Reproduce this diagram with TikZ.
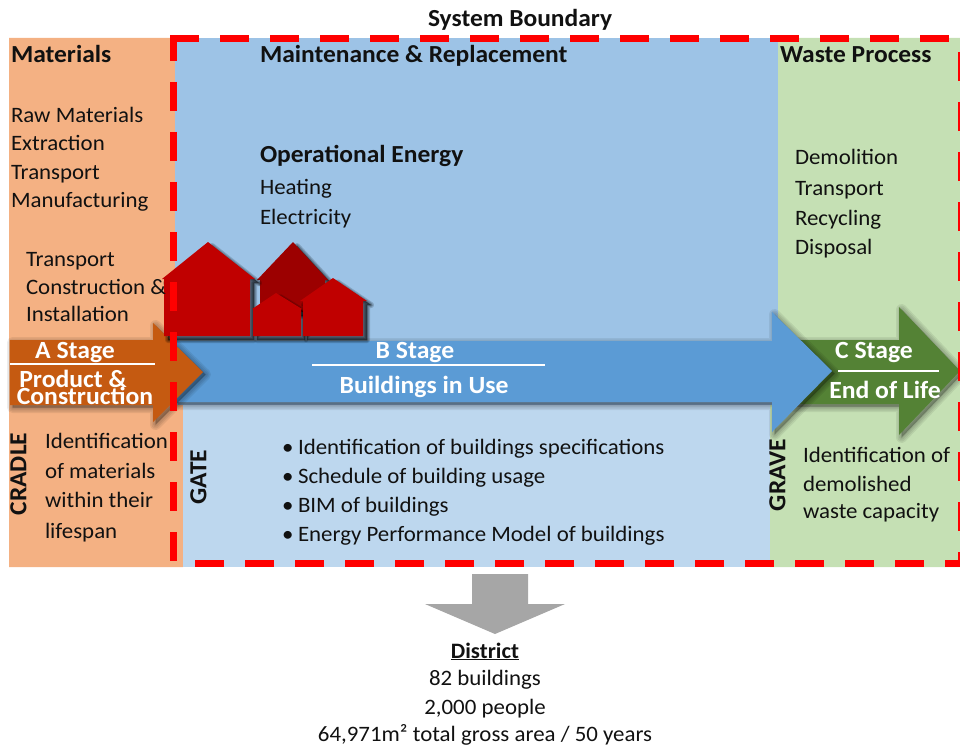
\documentclass[tikz,border=0pt]{standalone}
\usepackage{fontspec}
\setmainfont{Carlito}[FakeStretch=1.04]
\definecolor{paneOrange}{HTML}{F4B183}
\definecolor{paneBlue}{HTML}{9DC3E6}
\definecolor{paneBlueLight}{HTML}{BDD7EE}
\definecolor{paneGreen}{HTML}{C5E0B4}
\definecolor{arrOrange}{HTML}{C55A11}
\definecolor{arrBlue}{HTML}{5B9BD5}
\definecolor{arrGreen}{HTML}{548235}
\definecolor{houseRed}{HTML}{C00000}
\definecolor{houseDark}{HTML}{9C0000}
\definecolor{textBlack}{HTML}{111111}
\tikzset{
  txt/.style={anchor=base west,inner sep=0pt,outer sep=0pt,text=textBlack,font=\fontsize{22}{22}\selectfont},
  head/.style={txt,font=\bfseries\fontsize{24.5}{24.5}\selectfont},
  ctr/.style={anchor=base,inner sep=0pt,outer sep=0pt,text=textBlack,font=\fontsize{22}{22}\selectfont},
  vert/.style={anchor=center,rotate=90,inner sep=0pt,outer sep=0pt,text=textBlack,font=\bfseries\fontsize{24.5}{24.5}\selectfont},
  white lbl/.style={anchor=base,inner sep=0pt,outer sep=0pt,text=white,font=\bfseries\fontsize{24.7}{24.7}\selectfont},
  rule/.style={white,line width=2.2pt},
  boundary/.style={red,line width=7pt,dash pattern=on 29pt off 21pt},
  soft/.style={black,opacity=0.07,line join=round,fill=black,fill opacity=0.07}
}
\newcommand{\softshadow}[1]{%
  \foreach \w in {11,8,5,2}{\draw[soft,line width=\w pt,shift={(2.5,2.5)}] #1;}%
}
\newcommand{\houseshadow}[1]{%
  \foreach \w in {6,4,2,0.5}{\draw[soft,opacity=0.16,fill opacity=0.16,line width=\w pt,shift={(4,4)}] #1;}%
}
\begin{document}
\begin{tikzpicture}[x=1pt,y=-1pt]
\useasboundingbox (0,0) rectangle (960,746);
% panes
\fill[paneOrange] (9,38) -- (175,38) -- (175,405) -- (183,405) -- (183,567) -- (9,567) -- cycle;
\fill[paneBlue] (175,38) rectangle (778,405);
\fill[paneBlueLight] (183,405) rectangle (770,567);
\fill[paneGreen] (778,38) -- (960,38) -- (960,567) -- (770,567) -- (770,405) -- (778,405) -- cycle;

% green arrow
\def\gArrow{(785,340) -- (899,340) -- (899,307) -- (960,371) -- (899,435) -- (899,404) -- (785,404) -- cycle}
\softshadow{\gArrow}
\fill[arrGreen] \gArrow;
% blue arrow
\def\bArrow{(175,341) -- (772,341) -- (772,312) -- (832,371) -- (772,432) -- (772,402) -- (175,402) -- cycle}
\softshadow{\bArrow}
\fill[arrBlue] \bArrow;
% orange arrow
\def\oArrow{(10,340) -- (153,340) -- (153,323) -- (203,372) -- (153,422) -- (153,405) -- (10,405) -- cycle}
\softshadow{\oArrow}
\fill[arrOrange] \oArrow;

% grey down arrow
\fill[black!35] (472,574) -- (528,574) -- (528,604) -- (565,604) -- (495,634) -- (425,604) -- (472,604) -- cycle;

% houses
\def\hA{(208,242) -- (255,279) -- (250,279) -- (250,336) -- (164,336) -- (164,279) -- (162,279) -- cycle}
\def\hB{(293,242) -- (328,280) -- (325,280) -- (325,312) -- (260,312) -- (260,280) -- (257,280) -- cycle}
\def\hC{(276,293) -- (302,309) -- (301,309) -- (301,336) -- (253,336) -- (253,309) -- (252,309) -- cycle}
\def\hD{(333,278) -- (367,301) -- (363,301) -- (363,336) -- (303,336) -- (303,301) -- (300,301) -- cycle}
\houseshadow{\hB}\fill[houseDark] \hB;
\houseshadow{\hA}\fill[houseRed] \hA;
\houseshadow{\hC}\fill[houseRed] \hC;
\houseshadow{\hD}\fill[houseRed] \hD;

% boundary
\draw[boundary] (170,38.5) -- (960,38.5);
\draw[boundary,dash phase=6pt] (173.5,38) -- (173.5,567);
\draw[boundary] (195,563.5) -- (960,563.5);
\draw[red,line width=2pt,dash pattern=on 29pt off 21pt] (959,52) -- (959,567);

% title
\node[head] (title) at (428,27) {System Boundary};
% left pane
\node[head] (materials) at (11,63) {Materials};
\node[txt] (raw) at (11,123) {Raw Materials};
\node[txt] (extr) at (11,151) {Extraction};
\node[txt] (trans1) at (11,179) {Transport};
\node[txt] (manu) at (11,207) {Manufacturing};
\node[txt] (trans2) at (26,266) {Transport};
\node[txt] (constr) at (26,294) {Construction \&};
\node[txt] (inst) at (26,321) {Installation};
\node[vert] (cradle) at (18.5,474) {CRADLE};
\node[txt] (id1) at (45,448) {Identification};
\node[txt] (id2) at (45,478) {of materials};
\node[txt] (id3) at (45,507) {within their};
\node[txt] (id4) at (45,538) {lifespan};
% middle pane
\node[head] (maint) at (260,63) {Maintenance \& Replacement};
\node[head] (oper) at (260,163) {Operational Energy};
\node[txt] (heat) at (260,194) {Heating};
\node[txt] (elec) at (260,224) {Electricity};
\node[vert] (gate) at (198.5,477) {GATE};
\foreach \n/\y/\t in {b1/454/Identification of buildings specifications,
                      b2/483/Schedule of building usage,
                      b3/512/BIM of buildings,
                      b4/541/Energy Performance Model of buildings}{
  \node[txt] (\n) at (298,\y) {\t};
  \node[txt] (\n dot) at (282,\y) {•};
}
% right pane
\node[head] (waste) at (780,63) {Waste Process};
\node[txt] (dem) at (795,164.5) {Demolition};
\node[txt] (tr3) at (795,195) {Transport};
\node[txt] (rec) at (795,225) {Recycling};
\node[txt] (disp) at (795,254) {Disposal};
\node[vert] (grave) at (777.5,475) {GRAVE};
\node[txt] (w1) at (803,462) {Identification of};
\node[txt] (w2) at (803,491) {demolished};
\node[txt] (w3) at (803,518) {waste capacity};

% stage labels
\node[white lbl] (astage) at (75,358.5) {A Stage};
\draw[rule] (10,364) -- (155,364);
\node[white lbl] (aprod) at (73,387.5) {Product \&};
\node[white lbl] (acons) at (85,404.5) {Construction};
\node[white lbl] (bstage) at (415,358.5) {B Stage};
\draw[rule] (312,365) -- (545,365);
\node[white lbl] (buse) at (424,393.5) {Buildings in Use};
\node[white lbl] (cstage) at (874,358.5) {C Stage};
\draw[rule] (838,371) -- (939,371);
\node[white lbl] (cend) at (885,398) {End of Life};

% district
\node[ctr,font=\bfseries\fontsize{22}{22}\selectfont] (dist) at (485,658) {\underline{District}};
\node[ctr] (d1) at (485,685) {82 buildings};
\node[ctr] (d2) at (485,714) {2,000 people};
\node[ctr] (d3) at (485,741) {64,971m² total gross area / 50 years};
\end{tikzpicture}
\end{document}
